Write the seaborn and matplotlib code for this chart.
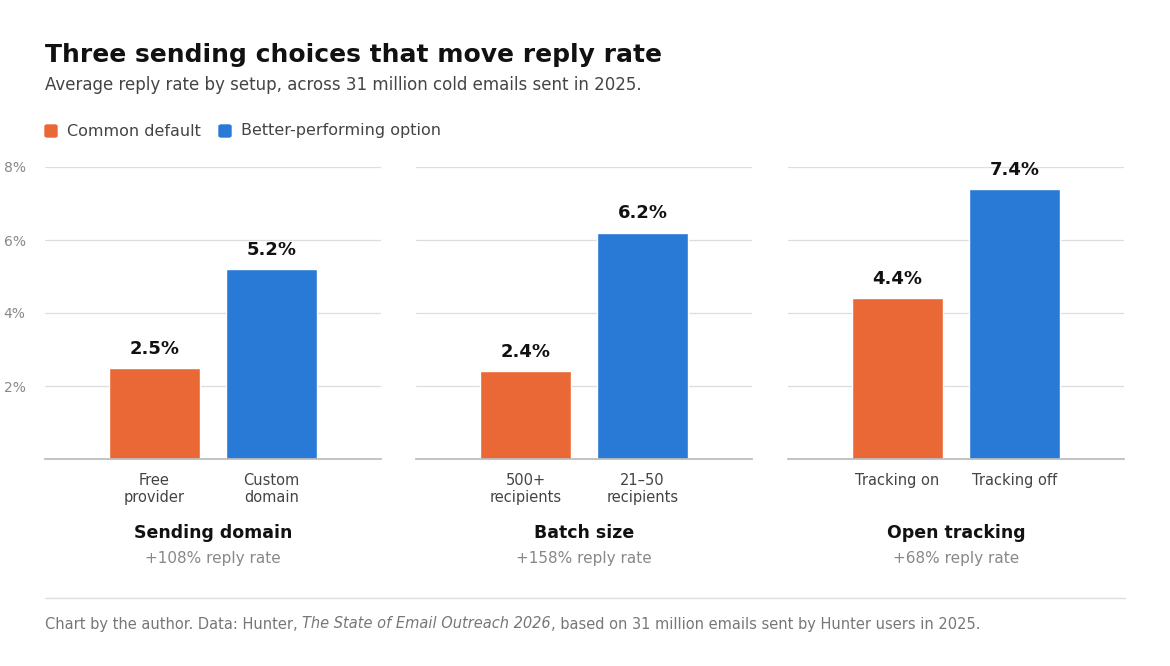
import matplotlib
matplotlib.use("Agg")
import matplotlib.pyplot as plt
import seaborn as sns
import pandas as pd
from matplotlib.patches import FancyBboxPatch
from matplotlib.lines import Line2D

sns.set_theme(style="white")
plt.rcParams["font.family"] = ["DejaVu Sans"]

# data
panel_titles = ["Sending domain", "Batch size", "Open tracking"]
panel_notes = ["+108% reply rate", "+158% reply rate", "+68% reply rate"]
default_labels = ["Free\nprovider", "500+\nrecipients", "Tracking on"]
better_labels = ["Custom\ndomain", "21–50\nrecipients", "Tracking off"]
default_values = [2.5, 2.4, 4.4]
better_values = [5.2, 6.2, 7.4]
y_ticks = [2, 4, 6, 8]

ORANGE = "#EA6835"
BLUE = "#2979D6"
W, H = 1170, 666

fig = plt.figure(figsize=(11.7, 6.66), dpi=100)

def fx(px):
    return px / W

def fy(py):
    return 1 - py / H

panel_left = [45, 416, 788]
pw = 336
for i in range(3):
    ax = fig.add_axes([fx(panel_left[i]), fy(459), fx(pw), (459 - 167) / H])
    df = pd.DataFrame({"label": [default_labels[i], better_labels[i]],
                       "value": [default_values[i], better_values[i]]})
    sns.barplot(data=df, x="label", y="value", hue="label",
                palette=[ORANGE, BLUE], width=0.78, ax=ax, legend=False,
                saturation=1)
    ax.set_xlim(0.5 - pw / 117 / 2, 0.5 + pw / 117 / 2)
    ax.set_ylim(0, 8)
    ax.set_yticks(y_ticks)
    ax.yaxis.grid(True, color="#dddddd", linewidth=0.9)
    ax.set_axisbelow(True)
    for s in ["top", "right", "left"]:
        ax.spines[s].set_visible(False)
    ax.spines["bottom"].set_color("#bbbbbb")
    ax.set_xlabel("")
    ax.set_ylabel("")
    ax.tick_params(axis="x", length=0, pad=10, labelsize=10.5, labelcolor="#444444")
    if i == 0:
        ax.set_yticklabels([f"{t}%" for t in y_ticks])
        ax.tick_params(axis="y", length=0, labelsize=10, labelcolor="#888888", pad=14)
    else:
        ax.set_yticklabels([])
        ax.tick_params(axis="y", length=0)
    for p, v in zip(ax.patches, [default_values[i], better_values[i]]):
        ax.text(p.get_x() + p.get_width() / 2, v + 0.28, f"{v}%", ha="center",
                va="bottom", fontsize=13, fontweight="bold", color="#111111")
    cx = fx(panel_left[i] + pw / 2)
    fig.text(cx, fy(533), panel_titles[i], ha="center", va="center",
             fontsize=12.5, fontweight="bold", color="#111111")
    fig.text(cx, fy(559), panel_notes[i], ha="center", va="center",
             fontsize=11, color="#888888")

fig.text(fx(45), fy(55), "Three sending choices that move reply rate",
         fontsize=18, fontweight="bold", color="#111111", va="center")
fig.text(fx(45), fy(85), "Average reply rate by setup, across 31 million cold emails sent in 2025.",
         fontsize=12, color="#444444", va="center")

# legend
for x0, col, lab in [(45, ORANGE, "Common default"), (219, BLUE, "Better-performing option")]:
    fig.patches.append(FancyBboxPatch((fx(x0), fy(137)), fx(12), 12 / H,
                                      boxstyle="round,pad=0,rounding_size=0.002",
                                      transform=fig.transFigure, color=col))
    fig.text(fx(x0 + 22), fy(131), lab, fontsize=11.5, color="#444444", va="center")

fig.add_artist(Line2D([fx(45), fx(1125)], [fy(598), fy(598)],
                      transform=fig.transFigure, color="#dddddd", linewidth=1))

# footer with italic part
parts = [("Chart by the author. Data: Hunter, ", "normal"),
         ("The State of Email Outreach 2026", "italic"),
         (", based on 31 million emails sent by Hunter users in 2025.", "normal")]
fig.canvas.draw()
r = fig.canvas.get_renderer()
x = fx(45)
for txt, st in parts:
    t = fig.text(x, fy(624), txt, fontsize=10.5, style=st, color="#777777", va="center")
    x += t.get_window_extent(renderer=r).width / W

fig.savefig("out.png", dpi=100)
